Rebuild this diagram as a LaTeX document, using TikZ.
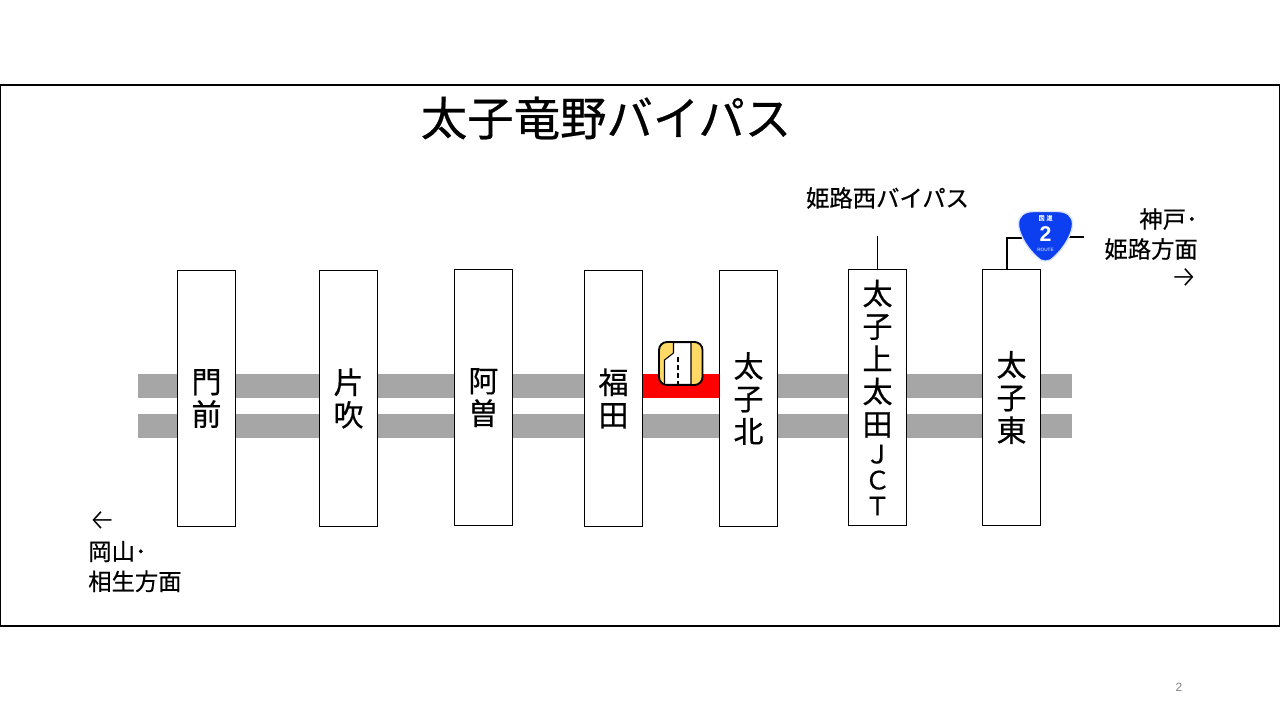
\documentclass[tikz,border=0pt]{standalone}
\usepackage{fontspec}
\setmainfont[RawFeature={embolden=0.5}]{Noto Sans CJK JP}
\newfontfamily\latinfont{Liberation Sans}
\newfontfamily\arrowfont[UprightFont=* Light]{Fira Sans}
\newcommand{\bigarrow}[1]{{\arrowfont\fontsize{23}{22.5}\selectfont #1}}
\newcommand{\smallletter}[1]{{\fontsize{19}{19.5}\selectfont #1}}
\definecolor{roadgray}{HTML}{A6A6A6}
\definecolor{signblue}{HTML}{0B3FF0}
\definecolor{signyellow}{HTML}{FFD966}
\tikzset{
  px/.style={x=0.75pt,y=-0.75pt},
  roadbar/.style={fill=roadgray,draw=none},
  icbox/.style={draw=black,fill=white,line width=0.75pt,minimum width=43.5pt,minimum height=192pt,inner sep=0pt,align=center,font=\fontsize{22.5}{24.5}\selectfont,anchor=center},
  lbl/.style={inner sep=0pt,font=\fontsize{17.5}{22.5}\selectfont},
  link/.style={draw=black,line width=1.2pt},
}
\begin{document}
\begin{tikzpicture}[px]
\useasboundingbox (0,0) rectangle (1280,720);
\fill[white] (0,0) rectangle (1280,720);
\draw[line width=1.1pt] (0,85) rectangle (1280,626);
\node[inner sep=0pt,font=\fontsize{34.8}{36}\selectfont] (title) at (606,118) {太子竜野バイパス};
% road bars
\fill[roadbar] (138,374) rectangle (1072,398);
\fill[roadbar] (138,414) rectangle (1072,438);
\fill[red] (643,374) rectangle (719,398);
% interchange boxes
\node[icbox] (monzen) at (206.5,398.5) {門\\前};
\node[icbox] (katabuki) at (348.5,398.5) {片\\吹};
\node[icbox] (aso) at (483.5,397.5) {阿\\曽};
\node[icbox] (fukuda) at (613.5,398.5) {福\\田};
\node[icbox] (taishikita) at (748.5,398.5) {太\\子\\北};
\node[icbox] (jct) at (877.5,397.5) {太\\子\\上\\太\\田\\[-3.5pt]\smallletter{Ｊ}\\[-5pt]\smallletter{Ｃ}\\[-5pt]\smallletter{Ｔ}};
\node[icbox] (taishihigashi) at (1011.5,397.5) {太\\子\\東};
% labels
\node[lbl] (himejinishi) at (887.5,198) {姫路西バイパス};
\node[lbl,align=right,anchor=north east] (kobe) at (1198,208) {神戸･\\姫路方面\\\bigarrow{→}};
\node[lbl,align=left,anchor=north west] (okayama) at (88,511) {\bigarrow{←}\\岡山･\\相生方面};
\node[inner sep=0pt,text=gray,font=\latinfont\fontsize{9}{10}\selectfont] (page) at (1179,687) {2};
% connectors
\coordinate (jctend) at (877,236);
\draw[link] (jct.north) -- (jct.north |- jctend);
\coordinate (stubr) at (1084,237);
\coordinate (stubl) at (1022,238);
\coordinate (boxtop) at (1007,269);
\draw[link] (boxtop) -- (1007,238) -- (stubl);
\coordinate (stubs) at (1068,237);
\draw[link] (stubs) -- (stubr);
% route shield
\filldraw[fill=signblue,draw=white!85!signblue,line width=1pt]
  (1034,211.5) -- (1057,211.5) .. controls (1067,211.5) and (1072.5,216) .. (1072.5,224)
  .. controls (1072.5,232) and (1066,246) .. (1054,257)
  .. controls (1050,262.5) and (1041,262.5) .. (1037,257)
  .. controls (1025,246) and (1018.5,232) .. (1018.5,224)
  .. controls (1018.5,216) and (1024,211.5) .. (1034,211.5) -- cycle;
\node[inner sep=0pt,text=white,font=\fontsize{4.5}{5}\selectfont] (kokudo) at (1045.5,218) {国\,\,道};
\node[inner sep=0pt,text=white,font=\latinfont\bfseries\fontsize{16}{17}\selectfont] (two) at (1045.5,234) {2};
\node[inner sep=0pt,text=white,font=\latinfont\fontsize{3.5}{4}\selectfont] (route) at (1045.5,250) {ROUTE};
% toll icon
\filldraw[fill=signyellow,draw=black,line width=1.4pt,rounded corners=6pt] (659,342) rectangle (702.5,385);
\filldraw[fill=white,draw=black,line width=0.8pt] (673.5,342.5) -- (691,342.5) -- (691,384.5) -- (664.5,384.5) -- (664.5,360) -- (673.5,353) -- cycle;
\draw[black,line width=1.2pt,dash pattern=on 3.5pt off 2.5pt] (678,357) -- (678,384);
\end{tikzpicture}
\end{document}
